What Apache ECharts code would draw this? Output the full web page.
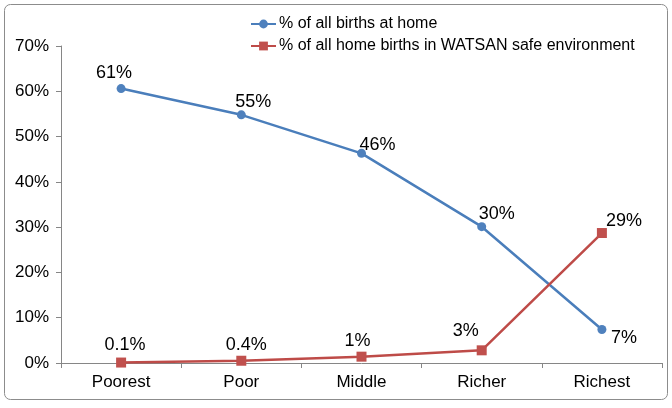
<!DOCTYPE html>
<html><head><meta charset="utf-8">
<script src="https://cdn.jsdelivr.net/npm/echarts@6/dist/echarts.min.js"></script>
<style>html,body{margin:0;padding:0;background:#fff}#c{width:672px;height:408px}</style>
</head><body><div id="c"></div>
<script>
const categories = ["Poorest", "Poor", "Middle", "Richer", "Richest"];
const birthsAtHome = [60.6, 54.8, 46.3, 30.1, 7.4];
const birthsAtHomeLabels = ["61%", "55%", "46%", "30%", "7%"];
const watsanSafe = [0.1, 0.5, 1.4, 2.8, 28.7];
const watsanSafeLabels = ["0.1%", "0.4%", "1%", "3%", "29%"];
const yTicks = [0, 10, 20, 30, 40, 50, 60, 70];

const blueOffsets = [[-7,-16],[12,-13],[16,-8],[15,-13],[22,9]];
const redOffsets = [[4,-18],[5,-16],[-4,-16],[-16,-19],[22,-12]];

const chart = echarts.init(document.getElementById('c'));
const font = 'Liberation Sans, Arial, sans-serif';
chart.setOption({
  animation:false,
  graphic:[{type:'rect',shape:{x:4.5,y:4.5,width:663,height:395,r:6},style:{fill:'none',stroke:'#8c8c8c',lineWidth:1}}],
  legend:{top:11,left:245,orient:'vertical',itemGap:6,itemWidth:25,itemHeight:11,
    textStyle:{fontFamily:font,fontSize:16,color:'#000',padding:[0,0,0,-2]},
    data:[{name:'% of all births at home'},{name:'% of all home births in WATSAN safe environment'}]},
  grid:{left:61,right:10,top:46,bottom:45,containLabel:false},
  xAxis:{type:'category',data:categories,boundaryGap:true,
    axisLine:{lineStyle:{color:'#868686'}},axisTick:{show:true,length:5,lineStyle:{color:'#868686'}},
    axisLabel:{fontFamily:font,fontSize:17,color:'#000',margin:11}},
  yAxis:{type:'value',min:0,max:70,interval:10,
    axisLine:{show:true,lineStyle:{color:'#868686'}},axisTick:{show:true,length:5,lineStyle:{color:'#868686'}},
    splitLine:{show:false},
    axisLabel:{fontFamily:font,fontSize:17,color:'#000',margin:12,formatter:v=>yTicks.includes(v)?v+'%':''}},
  series:[
    {name:'% of all births at home',type:'line',data:birthsAtHome.map((v,i)=>({value:v,
      label:{show:true,position:'inside',offset:blueOffsets[i],formatter:birthsAtHomeLabels[i]}})),
     symbol:'circle',symbolSize:9,lineStyle:{color:'#4a7ebb',width:2.5},itemStyle:{color:'#4f81bd'},
     label:{fontFamily:font,fontSize:18,color:'#000'}},
    {name:'% of all home births in WATSAN safe environment',type:'line',data:watsanSafe.map((v,i)=>({value:v,
      label:{show:true,position:'inside',offset:redOffsets[i],formatter:watsanSafeLabels[i]}})),
     symbol:'rect',symbolSize:10,lineStyle:{color:'#be4b48',width:2.5},itemStyle:{color:'#c0504d'},
     label:{fontFamily:font,fontSize:18,color:'#000'}}
  ]
});
</script></body></html>
